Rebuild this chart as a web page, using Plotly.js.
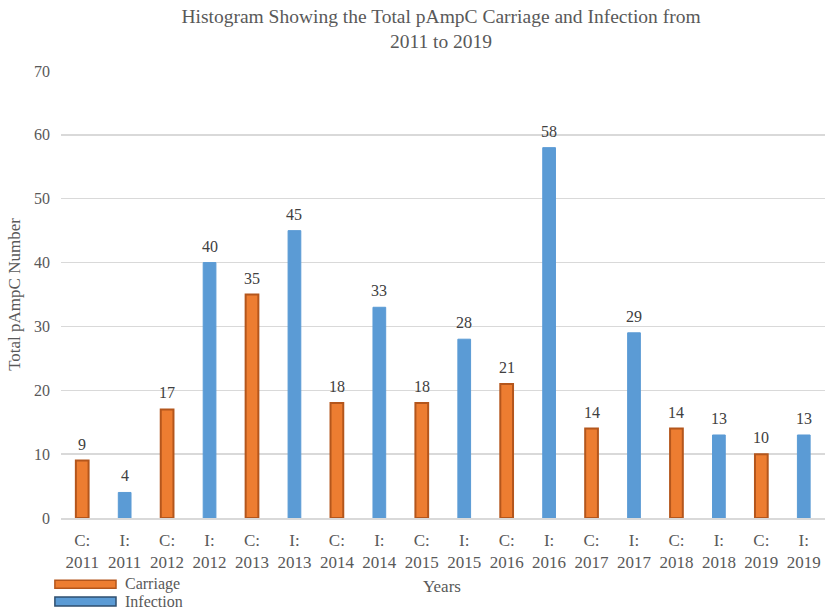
<!DOCTYPE html>
<html>
<head>
<meta charset="utf-8">
<script src="https://cdn.plot.ly/plotly-3.0.1.min.js"></script>
<style>
  html, body { margin: 0; padding: 0; background: #fff; }
  #chart { width: 829px; height: 613px; }
</style>
</head>
<body>
<div id="chart"></div>
<script>
// tick labels, one bar each
const categories = [
  "C:<br>2011", "I:<br>2011", "C:<br>2012", "I:<br>2012", "C:<br>2013", "I:<br>2013",
  "C:<br>2014", "I:<br>2014", "C:<br>2015", "I:<br>2015", "C:<br>2016", "I:<br>2016",
  "C:<br>2017", "I:<br>2017", "C:<br>2018", "I:<br>2018", "C:<br>2019", "I:<br>2019"
];
// null where the other series owns the slot
const carriage = [9, null, 17, null, 35, null, 18, null, 18, null, 21, null, 14, null, 14, null, 10, null];
const infection = [null, 4, null, 40, null, 45, null, 33, null, 28, null, 58, null, 29, null, 13, null, 13];

const serif = "'Liberation Serif', 'Times New Roman', serif";
const orange = "#ED7D31";
const orangeEdge = "#B4561C";
const blue = "#5B9BD5";
const grey = "#595959";

const data = [
  {
    type: "bar",
    name: "Carriage",
    x: categories,
    y: carriage,
    width: 0.3,
    marker: { color: orange, line: { color: orangeEdge, width: 2 } }
  },
  {
    type: "bar",
    name: "Infection",
    x: categories,
    y: infection,
    width: 0.3,
    marker: { color: blue, line: { color: blue, width: 1 } }
  }
];

// value labels sitting a little above each bar
const valueLabels = [];
[carriage, infection].forEach(series => {
  series.forEach((v, i) => {
    if (v === null) return;
    valueLabels.push({
      x: categories[i], y: v, text: String(v),
      xref: "x", yref: "y", yanchor: "bottom", yshift: 6,
      showarrow: false, font: { family: serif, size: 16, color: "#404040" }
    });
  });
});

const layout = {
  width: 829,
  height: 613,
  margin: { l: 61, r: 4, t: 71, b: 95 },
  paper_bgcolor: "#fff",
  plot_bgcolor: "#fff",
  barmode: "overlay",
  showlegend: false,
  font: { family: serif, color: grey },
  title: {
    text: "Histogram Showing the Total pAmpC Carriage and Infection from<br>2011 to 2019",
    font: { family: serif, size: 19.5, color: grey },
    x: 0.532,
    xanchor: "center",
    y: 0.963,
    yanchor: "top"
  },
  xaxis: {
    type: "category",
    tickfont: { family: serif, size: 17, color: grey },
    showgrid: false,
    showline: true,
    linecolor: "#d9d9d9",
    linewidth: 1.5,
    ticks: "",
    ticklabelstandoff: 6
  },
  yaxis: {
    range: [0, 70],
    dtick: 10,
    tickfont: { family: serif, size: 16, color: grey },
    gridcolor: "#d9d9d9",
    gridwidth: 1.5,
    zeroline: false,
    showline: false,
    ticks: "",
    ticklabelstandoff: 10,
    title: { text: "Total pAmpC Number", font: { family: serif, size: 17, color: grey }, standoff: 9 }
  },
  // legend drawn as swatches in the bottom-left corner
  shapes: [
    { type: "rect", xref: "paper", yref: "paper", x0: -0.008, x1: 0.072, y0: -0.157, y1: -0.139,
      fillcolor: orange, line: { color: orangeEdge, width: 1.5 } },
    { type: "rect", xref: "paper", yref: "paper", x0: -0.008, x1: 0.072, y0: -0.197, y1: -0.177,
      fillcolor: blue, line: { color: "#2f4f6f", width: 1.5 } }
  ],
  annotations: valueLabels.concat([
    { text: "Years", xref: "paper", yref: "paper", x: 0.499, y: -0.154, xanchor: "center", yanchor: "middle",
      showarrow: false, font: { family: serif, size: 17, color: grey } },
    { text: "Carriage", xref: "paper", yref: "paper", x: 0.081, y: -0.148, xanchor: "left", yanchor: "middle",
      showarrow: false, font: { family: serif, size: 16, color: grey } },
    { text: "Infection", xref: "paper", yref: "paper", x: 0.081, y: -0.186, xanchor: "left", yanchor: "middle",
      showarrow: false, font: { family: serif, size: 16, color: grey } }
  ])
};

Plotly.newPlot("chart", data, layout, { displayModeBar: false, staticPlot: true });
</script>
</body>
</html>
